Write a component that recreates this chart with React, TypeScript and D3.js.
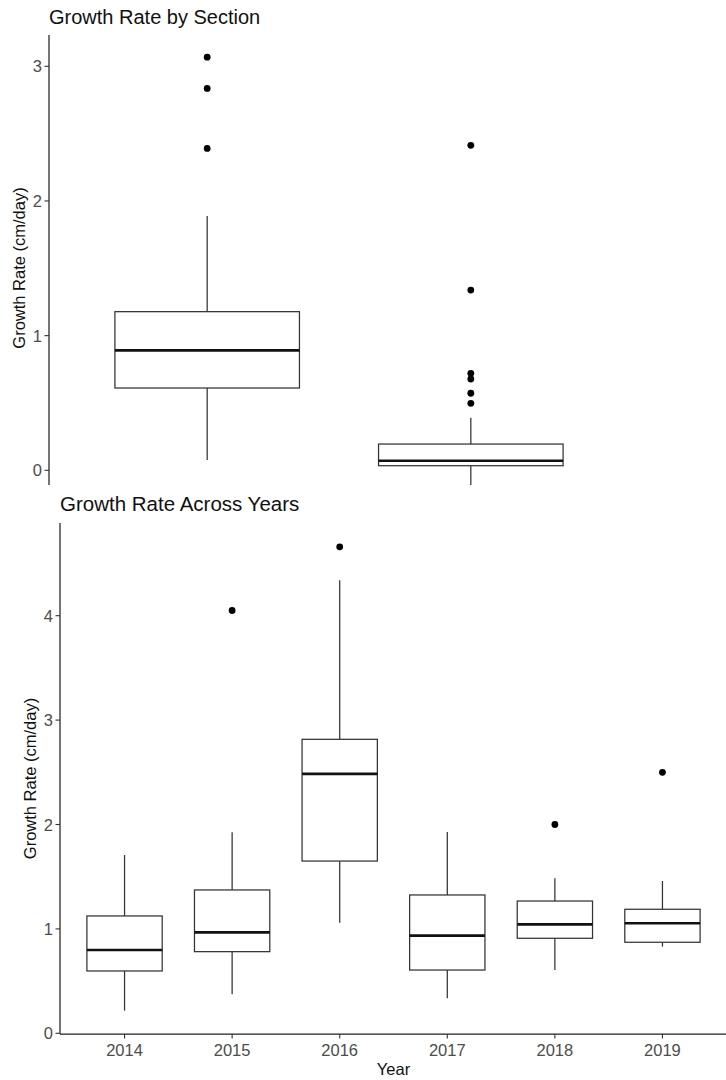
import React from "react";
import * as d3 from "d3";

// ---- Top panel: Growth Rate by Section ----
const sections = ["Section 1", "Section 2"];
const sectionQ1 = [0.611, 0.034];
const sectionMedian = [0.891, 0.071];
const sectionQ3 = [1.178, 0.195];
const sectionLow = [0.076, -0.16];
const sectionHigh = [1.888, 0.39];
const sectionOutliers = [
  [3.068, 2.836, 2.39],
  [2.413, 1.338, 0.72, 0.678, 0.572, 0.497],
];
const sectionTicks = [0, 1, 2, 3];

// ---- Bottom panel: Growth Rate Across Years ----
const years = ["2014", "2015", "2016", "2017", "2018", "2019"];
const yearQ1 = [0.597, 0.782, 1.65, 0.606, 0.91, 0.872];
const yearMedian = [0.798, 0.967, 2.484, 0.935, 1.044, 1.054];
const yearQ3 = [1.124, 1.373, 2.816, 1.325, 1.267, 1.188];
const yearLow = [0.217, 0.374, 1.06, 0.335, 0.606, 0.83];
const yearHigh = [1.708, 1.925, 4.34, 1.928, 1.485, 1.459];
const yearOutliers = [[], [4.05], [4.66], [], [2.0], [2.5]];
const yearTicks = [0, 1, 2, 3, 4];

const FONT = "'Liberation Sans', Arial, Helvetica, sans-serif";
const TICK_COLOR = "#4d4d4d";
const LINE = "#333333";

type BoxProps = {
  cats: string[];
  q1: number[];
  med: number[];
  q3: number[];
  lo: number[];
  hi: number[];
  out: number[][];
  x: d3.ScalePoint<string>;
  y: d3.ScaleLinear<number, number>;
};

function Boxes({ cats, q1, med, q3, lo, hi, out, x, y }: BoxProps) {
  const w = x.step() * 0.7;
  return (
    <g>
      {cats.map((c, i) => {
        const cx = x(c) as number;
        return (
          <g key={c}>
            <line x1={cx} x2={cx} y1={y(q3[i])} y2={y(hi[i])} stroke={LINE} strokeWidth={1.25} />
            <line x1={cx} x2={cx} y1={y(q1[i])} y2={y(lo[i])} stroke={LINE} strokeWidth={1.25} />
            <rect
              x={cx - w / 2}
              y={y(q3[i])}
              width={w}
              height={y(q1[i]) - y(q3[i])}
              fill="white"
              stroke={LINE}
              strokeWidth={1.25}
            />
            <line x1={cx - w / 2} x2={cx + w / 2} y1={y(med[i])} y2={y(med[i])} stroke="#111" strokeWidth={2.7} />
            {out[i].map((v, j) => (
              <circle key={j} cx={cx} cy={y(v)} r={3.4} fill="black" />
            ))}
          </g>
        );
      })}
    </g>
  );
}

export default function App() {
  // top panel scales
  const yTop = d3.scaleLinear().domain([0, 3]).range([470.3, 66.3]);
  const xTop = d3.scalePoint<string>().domain(sections).range([49, 629]).padding(0.6);
  const topAxisX = 49;
  const topPanelTop = 35;
  const topPanelBottom = 485;

  // bottom panel scales
  const yBot = d3.scaleLinear().domain([0, 4]).range([1033.3, 615.7]);
  const xBot = d3.scalePoint<string>().domain(years).range([60, 727]).padding(0.6);
  const botAxisX = 60;
  const botPanelTop = 523;
  const botAxisY = 1034;

  return (
    <svg
      width={726}
      height={1080}
      style={{ position: "absolute", left: 0, top: 0, background: "white" }}
      fontFamily={FONT}
    >
      <rect width={726} height={1080} fill="white" />
      <defs>
        <clipPath id="topClip">
          <rect x={0} y={0} width={726} height={topPanelBottom} />
        </clipPath>
      </defs>

      {/* ---------- Top panel ---------- */}
      <text x={49} y={23.5} fontSize={20} fill="#111">
        Growth Rate by Section
      </text>
      <g clipPath="url(#topClip)">
        <Boxes
          cats={sections}
          q1={sectionQ1}
          med={sectionMedian}
          q3={sectionQ3}
          lo={sectionLow}
          hi={sectionHigh}
          out={sectionOutliers}
          x={xTop}
          y={yTop}
        />
      </g>
      <line x1={topAxisX} x2={topAxisX} y1={topPanelTop} y2={topPanelBottom} stroke="#222" strokeWidth={1.25} />
      {sectionTicks.map((t) => (
        <g key={t}>
          <line x1={topAxisX - 4.5} x2={topAxisX} y1={yTop(t)} y2={yTop(t)} stroke="#333" strokeWidth={1.1} />
          <text x={topAxisX - 7} y={yTop(t) + 6} fontSize={16.5} textAnchor="end" fill={TICK_COLOR}>
            {t}
          </text>
        </g>
      ))}
      <text
        transform={`translate(${24.5},${268}) rotate(-90)`}
        fontSize={16.5}
        textAnchor="middle"
        fill="#111"
      >
        Growth Rate (cm/day)
      </text>

      {/* ---------- Bottom panel ---------- */}
      <text x={60} y={510.5} fontSize={20.5} fill="#111">
        Growth Rate Across Years
      </text>
      <Boxes
        cats={years}
        q1={yearQ1}
        med={yearMedian}
        q3={yearQ3}
        lo={yearLow}
        hi={yearHigh}
        out={yearOutliers}
        x={xBot}
        y={yBot}
      />
      <line x1={botAxisX} x2={botAxisX} y1={botPanelTop} y2={botAxisY} stroke="#222" strokeWidth={1.25} />
      <line x1={botAxisX} x2={727} y1={botAxisY} y2={botAxisY} stroke="#222" strokeWidth={1.25} />
      {yearTicks.map((t) => (
        <g key={t}>
          <line x1={botAxisX - 4.5} x2={botAxisX} y1={yBot(t)} y2={yBot(t)} stroke="#333" strokeWidth={1.1} />
          <text x={botAxisX - 7} y={yBot(t) + 6} fontSize={16.5} textAnchor="end" fill={TICK_COLOR}>
            {t}
          </text>
        </g>
      ))}
      {years.map((yr) => (
        <g key={yr}>
          <line x1={xBot(yr)} x2={xBot(yr)} y1={botAxisY} y2={botAxisY + 4.5} stroke="#333" strokeWidth={1.1} />
          <text x={xBot(yr)} y={botAxisY + 22} fontSize={16.5} textAnchor="middle" fill={TICK_COLOR}>
            {yr}
          </text>
        </g>
      ))}
      <text x={393.5} y={1075} fontSize={16.5} textAnchor="middle" fill="#111">
        Year
      </text>
      <text
        transform={`translate(${36},${778.5}) rotate(-90)`}
        fontSize={16.5}
        textAnchor="middle"
        fill="#111"
      >
        Growth Rate (cm/day)
      </text>
    </svg>
  );
}
